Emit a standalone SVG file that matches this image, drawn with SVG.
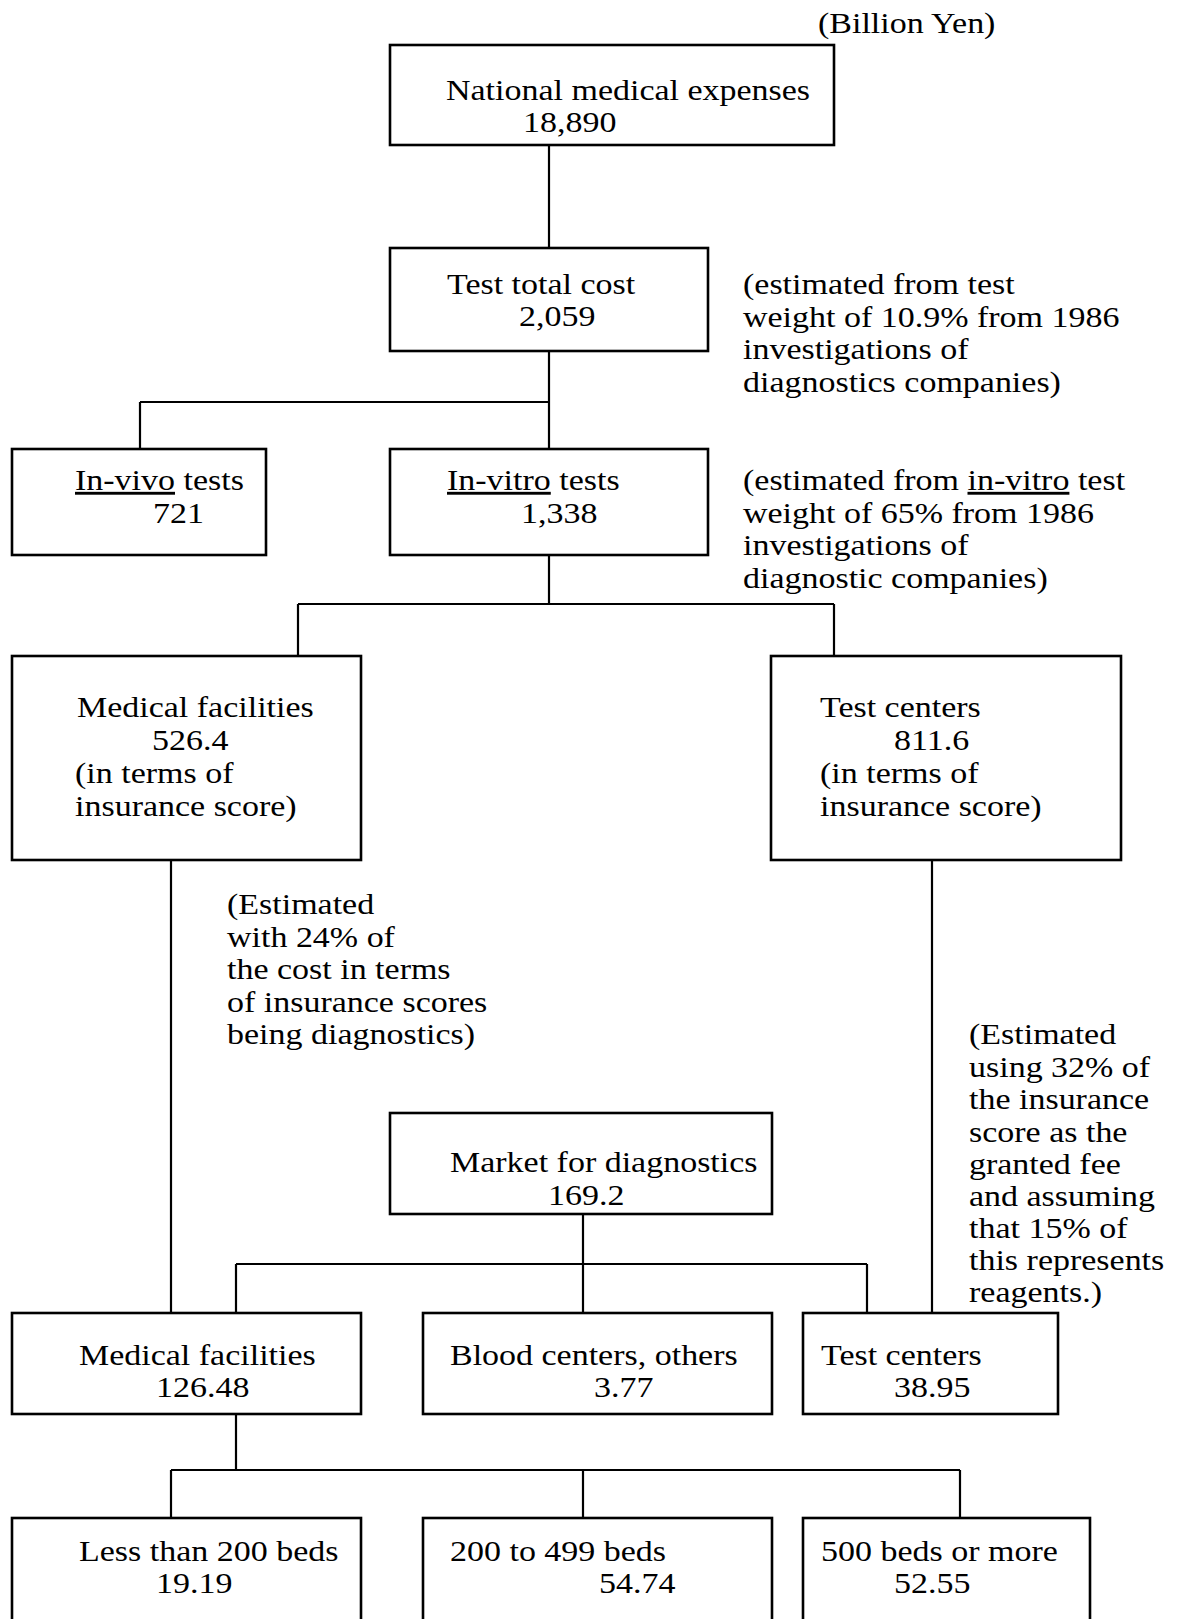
<svg xmlns="http://www.w3.org/2000/svg" width="1179" height="1619" viewBox="0 0 1179 1619">
<style>
.box{fill:#fff;stroke:#000;stroke-width:2.6}
.ln{fill:none;stroke:#000;stroke-width:2.2}
text{font-family:"Liberation Serif","Times New Roman",serif;font-size:28.8px;fill:#000}
.u{text-decoration:underline}
</style>
<rect width="1179" height="1619" fill="#fff"/>
<g id="connectors">
<path class="ln" d="M549 145V248"/>
<path class="ln" d="M549 351V449M140 402H549M140 402V449"/>
<path class="ln" d="M549 555V604M298 604H834M298 604V656M834 604V656"/>
<path class="ln" d="M171 860V1313"/>
<path class="ln" d="M932 860V1313"/>
<path class="ln" d="M583 1214V1313M236 1264H867M236 1264V1313M867 1264V1313"/>
<path class="ln" d="M236 1414V1470M171 1470H960M171 1470V1518M583 1470V1518M960 1470V1518"/>
</g>
<g id="unit"><text transform="translate(818 33) scale(1.18 1)">(Billion Yen)</text></g>
<g id="national">
<rect class="box" x="390" y="45" width="444" height="100"/>
<text transform="translate(446 100) scale(1.18 1)">National medical expenses</text>
<text transform="translate(523 132) scale(1.18 1)">18,890</text>
</g>
<g id="test-total">
<rect class="box" x="390" y="248" width="318" height="103"/>
<text transform="translate(447 294) scale(1.18 1)">Test total cost</text>
<text transform="translate(519 326) scale(1.18 1)">2,059</text>
</g>
<g id="note-test-total">
<text transform="translate(743 294) scale(1.18 1)">(estimated from test</text>
<text transform="translate(743 327) scale(1.18 1)">weight of 10.9% from 1986</text>
<text transform="translate(743 359) scale(1.18 1)">investigations of</text>
<text transform="translate(743 392) scale(1.18 1)">diagnostics companies)</text>
</g>
<g id="in-vivo">
<rect class="box" x="12" y="449" width="254" height="106"/>
<text transform="translate(75 490) scale(1.18 1)"><tspan class="u">In-vivo</tspan> tests</text>
<text transform="translate(153 523) scale(1.18 1)">721</text>
</g>
<g id="in-vitro">
<rect class="box" x="390" y="449" width="318" height="106"/>
<text transform="translate(447 490) scale(1.18 1)"><tspan class="u">In-vitro</tspan> tests</text>
<text transform="translate(521 523) scale(1.18 1)">1,338</text>
</g>
<g id="note-in-vitro">
<text transform="translate(743 490) scale(1.18 1)">(estimated from <tspan class="u">in-vitro</tspan> test</text>
<text transform="translate(743 523) scale(1.18 1)">weight of 65% from 1986</text>
<text transform="translate(743 555) scale(1.18 1)">investigations of</text>
<text transform="translate(743 588) scale(1.18 1)">diagnostic companies)</text>
</g>
<g id="medical-facilities-1">
<rect class="box" x="12" y="656" width="349" height="204"/>
<text transform="translate(77 717) scale(1.18 1)">Medical facilities</text>
<text transform="translate(152 750) scale(1.18 1)">526.4</text>
<text transform="translate(75 783) scale(1.18 1)">(in terms of</text>
<text transform="translate(75 816) scale(1.18 1)">insurance score)</text>
</g>
<g id="test-centers-1">
<rect class="box" x="771" y="656" width="350" height="204"/>
<text transform="translate(820 717) scale(1.18 1)">Test centers</text>
<text transform="translate(894 750) scale(1.18 1)">811.6</text>
<text transform="translate(820 783) scale(1.18 1)">(in terms of</text>
<text transform="translate(820 816) scale(1.18 1)">insurance score)</text>
</g>
<g id="note-medical">
<text transform="translate(227 914) scale(1.18 1)">(Estimated</text>
<text transform="translate(227 947) scale(1.18 1)">with 24% of</text>
<text transform="translate(227 979) scale(1.18 1)">the cost in terms</text>
<text transform="translate(227 1012) scale(1.18 1)">of insurance scores</text>
<text transform="translate(227 1044) scale(1.18 1)">being diagnostics)</text>
</g>
<g id="note-test-centers">
<text transform="translate(969 1044) scale(1.18 1)">(Estimated</text>
<text transform="translate(969 1077) scale(1.18 1)">using 32% of</text>
<text transform="translate(969 1109) scale(1.18 1)">the insurance</text>
<text transform="translate(969 1142) scale(1.18 1)">score as the</text>
<text transform="translate(969 1174) scale(1.18 1)">granted fee</text>
<text transform="translate(969 1206) scale(1.18 1)">and assuming</text>
<text transform="translate(969 1238) scale(1.18 1)">that 15% of</text>
<text transform="translate(969 1270) scale(1.18 1)">this represents</text>
<text transform="translate(969 1302) scale(1.18 1)">reagents.)</text>
</g>
<g id="market">
<rect class="box" x="390" y="1113" width="382" height="101"/>
<text transform="translate(450 1172) scale(1.18 1)">Market for diagnostics</text>
<text transform="translate(548 1205) scale(1.18 1)">169.2</text>
</g>
<g id="medical-facilities-2">
<rect class="box" x="12" y="1313" width="349" height="101"/>
<text transform="translate(79 1365) scale(1.18 1)">Medical facilities</text>
<text transform="translate(156 1397) scale(1.18 1)">126.48</text>
</g>
<g id="blood-centers">
<rect class="box" x="423" y="1313" width="349" height="101"/>
<text transform="translate(450 1365) scale(1.18 1)">Blood centers, others</text>
<text transform="translate(594 1397) scale(1.18 1)">3.77</text>
</g>
<g id="test-centers-2">
<rect class="box" x="803" y="1313" width="255" height="101"/>
<text transform="translate(821 1365) scale(1.18 1)">Test centers</text>
<text transform="translate(894 1397) scale(1.18 1)">38.95</text>
</g>
<g id="less-200">
<rect class="box" x="12" y="1518" width="349" height="110"/>
<text transform="translate(79 1561) scale(1.18 1)">Less than 200 beds</text>
<text transform="translate(156 1593) scale(1.18 1)">19.19</text>
</g>
<g id="beds-200-499">
<rect class="box" x="423" y="1518" width="349" height="110"/>
<text transform="translate(450 1561) scale(1.18 1)">200 to 499 beds</text>
<text transform="translate(599 1593) scale(1.18 1)">54.74</text>
</g>
<g id="beds-500">
<rect class="box" x="803" y="1518" width="287" height="110"/>
<text transform="translate(821 1561) scale(1.18 1)">500 beds or more</text>
<text transform="translate(894 1593) scale(1.18 1)">52.55</text>
</g>
</svg>
